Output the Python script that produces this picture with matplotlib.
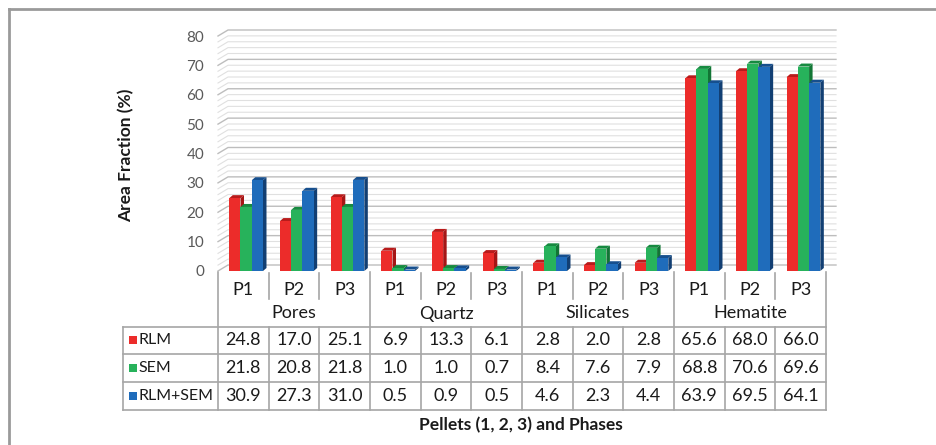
import numpy as np
import matplotlib
matplotlib.use("Agg")
import matplotlib.pyplot as plt
from matplotlib.patches import Polygon

plt.rcParams['font.family'] = ['Lato', 'DejaVu Sans']

# area fractions (%) for each phase and pellet
phases = ["Pores", "Quartz", "Silicates", "Hematite"]
pellets = ["P1", "P2", "P3"]
series = ["RLM", "SEM", "RLM+SEM"]
rlm = [24.8, 17.0, 25.1, 6.9, 13.3, 6.1, 2.8, 2.0, 2.8, 65.6, 68.0, 66.0]
sem = [21.8, 20.8, 21.8, 1.0, 1.0, 0.7, 8.4, 7.6, 7.9, 68.8, 70.6, 69.6]
both = [30.9, 27.3, 31.0, 0.5, 0.9, 0.5, 4.6, 2.3, 4.4, 63.9, 69.5, 64.1]
yticks = [0, 10, 20, 30, 40, 50, 60, 70, 80]

front = ["#EC2C2A", "#27B25B", "#1F6CBB"]
top = ["#B81B1B", "#168A40", "#164F8E"]
side = ["#A51616", "#127535", "#123F73"]

W, H = 937, 445
fig = plt.figure(figsize=(W / 100, H / 100), dpi=100)

# pixel-space layer for the frame, table and titles
bg = fig.add_axes([0, 0, 1, 1])
bg.set_xlim(0, W)
bg.set_ylim(H, 0)
bg.axis("off")

# chart area
x0, x1 = 218, 826
yb, yt = 271, 36
ax = fig.add_axes([x0 / W, (H - yb) / H, (x1 - x0) / W, (yb - yt) / H])
ncat = len(rlm)
ax.set_xlim(0, ncat)
ax.set_ylim(0, 80)
for s in ax.spines.values():
    s.set_visible(False)
ax.set_xticks([])
ax.set_yticks(yticks)
ax.tick_params(axis="y", length=0, pad=10, labelsize=11, labelcolor="#595959")
ax.patch.set_alpha(0)

# back wall offset and bar depth (data units)
wx, wy = 10 / ((x1 - x0) / ncat), 6 / ((yb - yt) / 80)
dx, dy = 3.5 / ((x1 - x0) / ncat), 3 / ((yb - yt) / 80)

# gridlines on side wall and back wall
for g in np.arange(0, 80.1, 2):
    major = g % 10 == 0
    ax.plot([0, wx, ncat + wx], [g, g + wy, g + wy],
            color="#BDBDBD" if major else "#E0E0E0",
            lw=1.0 if major else 0.8, clip_on=False, zorder=1)

# 3D bars
bw = 0.222
for j, vals in enumerate([rlm, sem, both]):
    for i, v in enumerate(vals):
        bx = i + 0.222 + j * bw
        ax.add_patch(Polygon([(bx + bw, 0), (bx + bw + dx, dy),
                              (bx + bw + dx, v + dy), (bx + bw, v)],
                             closed=True, fc=side[j], ec="none",
                             clip_on=False, zorder=3))
        ax.add_patch(Polygon([(bx, v), (bx + bw, v), (bx + bw + dx, v + dy),
                              (bx + dx, v + dy)],
                             closed=True, fc=top[j], ec="none",
                             clip_on=False, zorder=3))
        ax.bar(bx, v, width=bw, align="edge", color=front[j],
               edgecolor="none", zorder=3, clip_on=False)

# data table under the chart
cw = (x1 - x0) / ncat
cols = [x0 + k * cw for k in range(ncat + 1)]
lc = "#A6A6A6"
rows = [326.5, 354, 382, 410]
lab_left = 123

for k, cx in enumerate(cols):
    if k % 3 == 0:
        bg.plot([cx, cx], [272, rows[-1]], color=lc, lw=1.2)
    else:
        bg.plot([cx, cx], [273, 299], color=lc, lw=1.2)
        bg.plot([cx, cx], [rows[0], rows[-1]], color=lc, lw=1.2)
bg.plot([lab_left, lab_left], [rows[0], rows[-1]], color=lc, lw=1.2)
for ry in rows:
    bg.plot([lab_left, x1], [ry, ry], color=lc, lw=1.2)

tfs = 13
for k in range(ncat):
    cx = cols[k] + cw / 2
    bg.text(cx, 290, pellets[k % 3], ha="center", va="center", fontsize=tfs, color="#1A1A1A")
for g, name in enumerate(phases):
    cx = cols[3 * g] + 1.5 * cw
    bg.text(cx, 313.5, name, ha="center", va="center", fontsize=tfs, color="#1A1A1A")

for r, (name, vals) in enumerate(zip(series, [rlm, sem, both])):
    cy = (rows[r] + rows[r + 1]) / 2
    bg.add_patch(plt.Rectangle((129, cy - 4), 8, 8, fc=front[r], ec="none"))
    bg.text(138.5, cy, name, ha="left", va="center", fontsize=11.5, color="#1A1A1A")
    for k, v in enumerate(vals):
        bg.text(cols[k] + cw / 2, cy, f"{v:.1f}", ha="center", va="center",
                fontsize=tfs, color="#1A1A1A")

bg.text(126, 155, "Area Fraction (%)", rotation=90, ha="center", va="center",
        fontsize=12.5, fontweight="bold", color="#1A1A1A")
bg.text(521, 425, "Pellets (1, 2, 3) and Phases", ha="center", va="center",
        fontsize=12.5, fontweight="bold", color="#1A1A1A")

# outer frame (top and left edges)
bg.plot([9, W], [9, 9], color="#9A9A9A", lw=2)
bg.plot([9, 9], [9, H], color="#9A9A9A", lw=2)

fig.savefig("out.png", dpi=100)
